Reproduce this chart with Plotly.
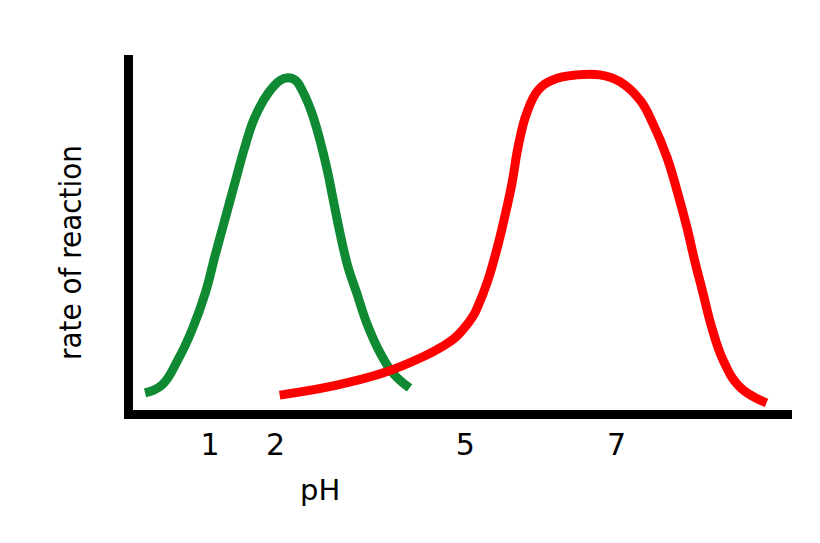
import plotly.graph_objects as go

# x 값은 그림의 눈금(1, 2) 간격을 기준으로 한 pH 위치, y 는 반응속도(0~100)
green_ph = [0.06, 0.31, 0.55, 0.76, 0.96, 1.10, 1.25, 1.40, 1.55, 1.70, 1.90, 2.08, 2.20,
            2.31, 2.42, 2.55, 2.67, 2.78, 2.87, 2.97, 3.09, 3.22, 3.37, 3.57, 3.76, 4.01]
green_rate = [4.8, 7.0, 14.1, 22.5, 33.0, 43.1, 53.5, 63.9, 74.1, 82.5, 89.3, 92.9, 93.6,
              92.8, 89.5, 83.7, 76.1, 67.6, 59.2, 49.9, 40.3, 33.0, 24.5, 16.1, 10.4, 6.2]

red_ph = [2.07, 2.87, 3.61, 4.21, 4.51, 4.68, 4.81, 4.95, 5.03, 5.18, 5.31, 5.43, 5.54, 5.63,
          5.76, 5.93, 6.15, 6.51, 6.85, 7.15, 7.45, 7.64, 7.85, 8.00, 8.15, 8.27, 8.39, 8.52,
          8.69, 8.94, 9.34]
red_rate = [4.2, 6.8, 10.4, 15.0, 18.0, 20.2, 22.7, 26.2, 29.2, 36.6, 45.1, 54.4, 64.0, 74.1,
            83.7, 90.1, 93.0, 94.4, 94.4, 92.5, 87.3, 80.8, 71.3, 62.0, 51.5, 41.8, 33.0, 23.4,
            14.1, 6.5, 2.0]

tick_pos = [1.03, 2.01, 4.84, 7.10]
tick_text = ["1", "2", "5", "7"]


def main() -> None:
    fig = go.Figure()

    fig.add_trace(go.Scatter(
        x=green_ph, y=green_rate, mode="lines",
        line=dict(color="#0f8a32", width=9, shape="spline", smoothing=1.2),
        showlegend=False,
    ))
    fig.add_trace(go.Scatter(
        x=red_ph, y=red_rate, mode="lines",
        line=dict(color="#ff0000", width=9, shape="spline", smoothing=1.2),
        showlegend=False,
    ))

    # body 기본 여백(8px) 만큼 왼쪽/위 margin 을 줄여서 맞춤
    fig.update_layout(
        width=820, height=543,
        margin=dict(l=125, r=36, t=47, b=141),
        paper_bgcolor="white",
        plot_bgcolor="white",
        font=dict(family="DejaVu Sans", color="black"),
        xaxis=dict(
            range=[-0.12, 9.72],
            showgrid=False, zeroline=False,
            showline=True, linewidth=9, linecolor="black",
            tickmode="array", tickvals=tick_pos, ticktext=tick_text,
            tickfont=dict(size=30, family="DejaVu Sans"),
            ticks="",
        ),
        yaxis=dict(
            range=[0, 100],
            showgrid=False, zeroline=False,
            showline=True, linewidth=9, linecolor="black",
            showticklabels=False, ticks="",
        ),
        annotations=[
            dict(text="pH", xref="paper", yref="paper", x=0.284, y=-0.225,
                 xanchor="center", yanchor="middle", showarrow=False,
                 font=dict(size=29, family="DejaVu Sans")),
            dict(text="rate of reaction", xref="paper", yref="paper",
                 x=-0.0956, y=0.445, xanchor="center", yanchor="middle",
                 textangle=-90, showarrow=False,
                 font=dict(size=31, family="DejaVu Sans Condensed, DejaVu Sans")),
        ],
    )

    fig.write_html("out.html")


if __name__ == "__main__":
    main()
